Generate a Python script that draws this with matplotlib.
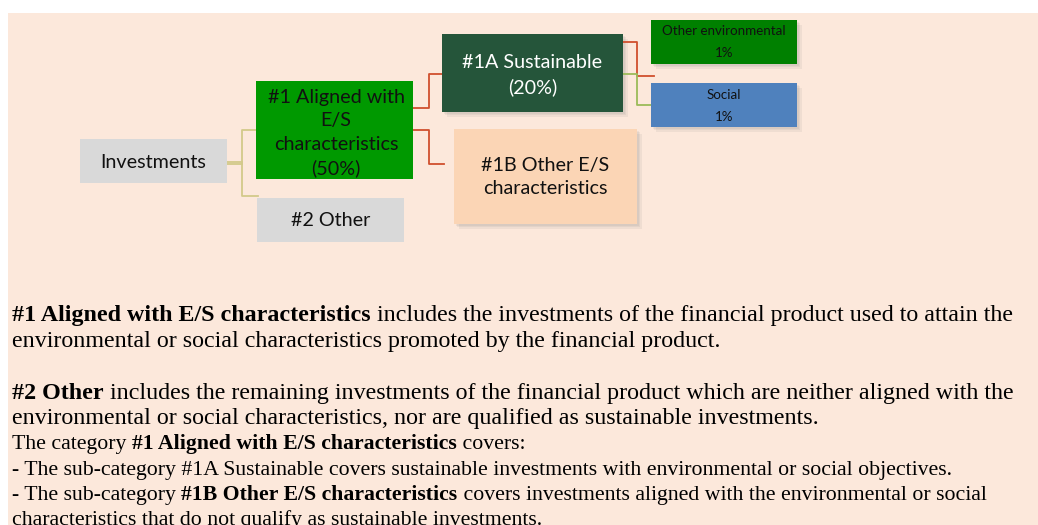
import matplotlib
matplotlib.use("Agg")
import matplotlib.pyplot as plt
from matplotlib.patches import Rectangle

# ---------------- data ----------------
node_names = ["Investments", "#1 Aligned with E/S characteristics", "#2 Other",
              "#1A Sustainable", "#1B Other E/S characteristics",
              "Other environmental", "Social"]
node_shares = [None, 50, None, 20, None, 1, 1]

body_lines = [
    [("#1 Aligned with E/S characteristics", True),
     (" includes the investments of the financial product used to attain the", False)],
    [("environmental or social characteristics promoted by the financial product.", False)],
    [("#2 Other", True),
     (" includes the remaining investments of the financial product which are neither aligned with the", False)],
    [("environmental or social characteristics, nor are qualified as sustainable investments.", False)],
    [("The category ", False), ("#1 Aligned with E/S characteristics", True), (" covers:", False)],
    [("- The sub-category #1A Sustainable covers sustainable investments with environmental or social objectives.", False)],
    [("- The sub-category ", False), ("#1B Other E/S characteristics", True),
     (" covers investments aligned with the environmental or social", False)],
    [("characteristics that do not qualify as sustainable investments.", False)],
]
# relative text size of each body line (last block is set slightly smaller)
body_scale = [1, 1, 1, 1, 0.905, 0.905, 0.905, 0.905]

# ---------------- figure ----------------
W, H = 1038, 525
fig = plt.figure(figsize=(W / 100, H / 100), dpi=100)
fig.patch.set_facecolor("white")
ax = fig.add_axes([0, 0, 1, 1])
ax.set_xlim(0, W)
ax.set_ylim(H, 0)
ax.axis("off")

BG = "#FCE8DB"
ax.add_patch(Rectangle((8, 13), W - 8, H - 13, facecolor=BG, edgecolor="none", zorder=0))

DFONT = "Lato"


def shadow(x0, y0, x1, y1):
    for i, a in enumerate([0.10, 0.10, 0.10]):
        d = 1.5 + i * 1.5
        ax.add_patch(Rectangle((x0 + d, y0 + d), x1 - x0, y1 - y0,
                               facecolor="#7f7f7f", edgecolor="none", alpha=a, zorder=1))


def box(x0, y0, x1, y1, color, shade=False):
    if shade:
        shadow(x0, y0, x1, y1)
    ax.add_patch(Rectangle((x0, y0), x1 - x0, y1 - y0, facecolor=color,
                           edgecolor="none", zorder=2))


# boxes
box(80, 139, 227, 183, "#D9D9D9")
box(256, 81, 413, 179, "#009900")
box(257, 198, 404, 242, "#D9D9D9")
box(442, 34, 623, 112, "#25553A", shade=True)
box(454, 129, 637, 224, "#FBD5B5", shade=True)
box(651, 20, 797, 64, "#008000", shade=True)
box(651, 83, 797, 127, "#4F81BD", shade=True)

fs = 14.2
LS = 1.46
ax.text(153.5, 162.5, node_names[0], ha="center", va="center", fontsize=fs,
        family=DFONT, color="#111111", zorder=3)
ax.text(336, 133, "#1 Aligned with\nE/S\ncharacteristics\n" + f"({node_shares[1]}%)",
        ha="center", va="center", fontsize=fs, family=DFONT, color="#111111",
        linespacing=LS, zorder=3)
ax.text(330.5, 221, node_names[2], ha="center", va="center", fontsize=fs,
        family=DFONT, color="#111111", zorder=3)
ax.text(532.5, 75, node_names[3] + f"\n({node_shares[3]}%)", ha="center", va="center",
        fontsize=fs, family=DFONT, color="white", linespacing=LS, zorder=3)
ax.text(545.5, 177, "#1B Other E/S\ncharacteristics", ha="center", va="center",
        fontsize=fs, family=DFONT, color="#111111", linespacing=LS, zorder=3)

sfs = 9.6
ax.text(724, 31, node_names[5], ha="center", va="center", fontsize=sfs,
        family=DFONT, color="#111111", zorder=3)
ax.text(724, 53, f"{node_shares[5]}%", ha="center", va="center", fontsize=sfs,
        family=DFONT, color="#111111", zorder=3)
ax.text(724, 95, node_names[6], ha="center", va="center", fontsize=sfs,
        family=DFONT, color="#111111", zorder=3)
ax.text(724, 117, f"{node_shares[6]}%", ha="center", va="center", fontsize=sfs,
        family=DFONT, color="#111111", zorder=3)

# connectors
OLIVE = "#D3C98A"
RED = "#D0502E"
GRN = "#9BBB59"
lw = 1.3
ax.plot([227, 242], [161.5, 161.5], color=OLIVE, lw=lw, zorder=1.5)
ax.plot([227, 242], [164, 164], color=OLIVE, lw=lw, zorder=1.5)
ax.plot([256, 242, 242, 258], [130, 130, 196, 196], color=OLIVE, lw=lw, zorder=1.5)
ax.plot([413, 429, 429, 442], [108, 108, 74, 74], color=RED, lw=lw, zorder=1.5)
ax.plot([413, 429, 429, 444], [130, 130, 164, 164], color=RED, lw=lw, zorder=1.5)
ax.plot([623, 637, 637, 654], [42, 42, 76, 76], color=RED, lw=lw, zorder=1.5)
ax.plot([623, 637, 637, 651], [74, 74, 105, 105], color=GRN, lw=lw, zorder=1.5)

# ---------------- body text ----------------
renderer = fig.canvas.get_renderer()
BFONT = "Liberation Serif"


def text_width(s, bold, size):
    t = ax.text(0, 0, s, fontsize=size, family=BFONT,
                fontweight="bold" if bold else "normal")
    w = t.get_window_extent(renderer).width
    t.remove()
    return w


def run_width(s, bold, size):
    return text_width("|" + s + "|", bold, size) - text_width("||", bold, size)


base = 14.0
w0 = sum(run_width(s, b, base) for s, b in body_lines[0])
bsize = base * 1004.0 / w0

baselines = [321, 347, 399, 424, 449, 475, 500, 525]
for y, segs, sc in zip(baselines, body_lines, body_scale):
    x = 12
    size = bsize * sc
    for s, b in segs:
        ax.text(x, y, s, fontsize=size, family=BFONT,
                fontweight="bold" if b else "normal", ha="left", va="baseline",
                color="black", zorder=3)
        x += run_width(s, b, size)

fig.savefig("out.png", dpi=100, facecolor="white")
